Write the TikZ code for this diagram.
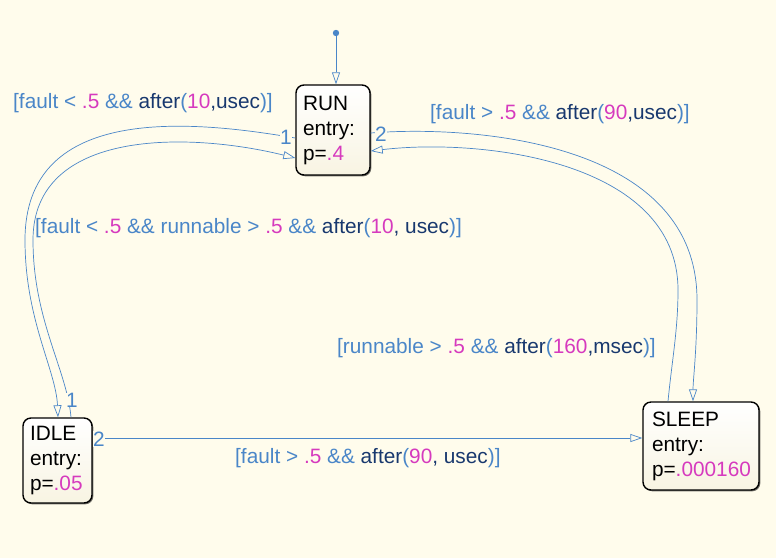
\documentclass[tikz,border=0pt]{standalone}
\usepackage{fontspec}
\setmainfont{Liberation Sans}
\usetikzlibrary{arrows.meta,shadows}
\definecolor{bg}{RGB}{255,252,236}
\definecolor{lblue}{RGB}{74,134,200}
\definecolor{mag}{RGB}{214,58,190}
\definecolor{navy}{RGB}{24,56,110}
\definecolor{boxbot}{RGB}{248,244,226}
\newcommand{\mg}[1]{\textcolor{mag}{#1}}
\newcommand{\nv}[1]{\textcolor{navy}{#1}}
\begin{document}
\begin{tikzpicture}[x=1pt,y=-1pt,
  state/.style={draw=black, line width=1.4pt, rounded corners=8pt,
    top color=white, bottom color=boxbot, align=left, text=black,
    font=\fontsize{20.8}{25}\selectfont, inner ysep=2pt,
    drop shadow={shadow xshift=1.3pt, shadow yshift=-1.3pt, fill=black, opacity=0.55}},
  trans/.style={draw=lblue, line width=0.7pt, -{Triangle[open, length=12pt, width=8pt]}},
  tline/.style={draw=lblue, line width=0.7pt},
  guard/.style={text=lblue, font=\fontsize{20.8}{25}\selectfont, inner sep=0pt, anchor=base west},
  num/.style={text=lblue, fill=bg, font=\fontsize{20.8}{25}\selectfont, inner sep=0.3pt}]
\fill[bg] (0,0) rectangle (776,558);
\useasboundingbox (0,0) rectangle (776,558);

% states
\node[state, minimum width=74pt, minimum height=90pt, text width=60pt, inner xsep=7pt] (run) at (333,130) {RUN\\entry:\\p=\mg{.4}};
\node[state, minimum width=69pt, minimum height=85pt, text width=55pt, inner xsep=7pt] (idle) at (57.5,460.5) {IDLE\\entry:\\p=\mg{.05}};
\node[state, minimum width=116pt, minimum height=88pt, text width=98pt, inner xsep=9pt] (sleep) at (701,446) {SLEEP\\entry:\\p=\mg{.000160}};

% default transition
\fill[lblue] (336,33) circle (3.2pt);
\coordinate (dflt) at (336,33);
\draw[trans] (dflt) -- (run.north -| dflt);

% RUN -> IDLE (outer left)
\coordinate (r1) at (run.west |- 0,138);
\coordinate (i1) at (idle.north -| 58,0);
\draw[trans] (r1) .. controls (180,118) and (25,108) .. (25,240)
  .. controls (25,320) and (56,370) .. (i1);
% IDLE -> RUN (inner left)
\coordinate (i2) at (idle.north -| 71,0);
\coordinate (r2) at (run.west |- 0,158);
\draw[trans] (i2) .. controls (67,370) and (33,320) .. (33,240)
  .. controls (33,128) and (190,132) .. (r2);

% RUN -> SLEEP (outer right)
\coordinate (r3) at (run.east |- 0,133);
\coordinate (s1) at (sleep.north -| 693,0);
\draw[trans] (r3) .. controls (470,125) and (697,140) .. (697,300)
  .. controls (697,350) and (693,380) .. (s1);
% SLEEP -> RUN (inner right)
\coordinate (s2) at (sleep.north -| 668,0);
\coordinate (r4) at (run.east |- 0,151);
\draw[trans] (s2) .. controls (672,360) and (678,330) .. (678,290)
  .. controls (678,160) and (480,138) .. (r4);

% IDLE -> SLEEP
\coordinate (i3) at (idle.east |- 0,438);
\coordinate (s3) at (sleep.west |- 0,438);
\draw[trans] (i3) -- (s3);

% transition numbers
\node[num] (n1) at (286,137) {1};
\node[num] (n2) at (381,134) {2};
\node[num] (n3) at (72,400) {1};
\node[num] (n4) at (99,439) {2};

% guards
\node[guard] (g1) at (13,108) {[fault < \mg{.5} \&\& \nv{after}(\mg{10}\nv{,usec})]};
\node[guard] (g2) at (35,233) {[fault < \mg{.5} \&\& runnable > \mg{.5} \&\& \nv{after}(\mg{10}\nv{, usec})]};
\node[guard] (g3) at (430,119) {[fault > \mg{.5} \&\& \nv{after}(\mg{90}\nv{,usec})]};
\node[guard] (g4) at (337,353) {[runnable > \mg{.5} \&\& \nv{after}(\mg{160}\nv{,msec})]};
\node[guard] (g5) at (235,463) {[fault > \mg{.5} \&\& \nv{after}(\mg{90}\nv{, usec})]};
\end{tikzpicture}
\end{document}
